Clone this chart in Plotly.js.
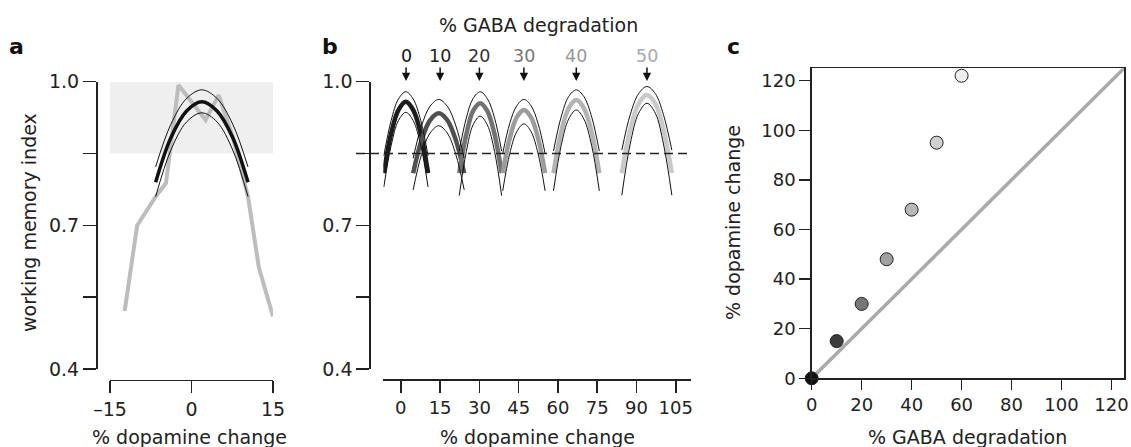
<!DOCTYPE html>
<html>
<head>
<meta charset="utf-8">
<script src="https://cdn.plot.ly/plotly-3.0.1.min.js"></script>
<style>html,body{margin:0;padding:0;background:#fff;}#chart{width:1131px;height:447px;}</style>
</head>
<body>
<div id="chart"></div>
<script>
// ---------- Panel a data ----------
const aSimX = [-12.3, -10, -6.6, -4.7, -2.4, 2.6, 5.0, 7.6, 10.4, 12.4, 15];
const aSimY = [0.521, 0.700, 0.760, 0.788, 0.993, 0.920, 0.972, 0.885, 0.760, 0.612, 0.510];
const aFitX = [-6.6, -3.8, -0.9, 1.9, 4.7, 7.6, 10.4];
const aFitMid = [0.790, 0.883, 0.939, 0.958, 0.939, 0.883, 0.790];
const aFitUp = [0.822, 0.911, 0.965, 0.983, 0.965, 0.911, 0.822];
const aFitLow = [0.760, 0.857, 0.916, 0.935, 0.916, 0.857, 0.760];
const aXTicks = [-15, 0, 15];
const aXTickText = ['\u201315', '0', '15'];
const wmTicks = [0.4, 0.55, 0.7, 0.85, 1.0];
const wmTickText = ['0.4', '', '0.7', '', '1.0'];

// ---------- Panel b data ----------
const gabaLevels = ['0', '10', '20', '30', '40', '50'];
const arrowDopamine = [2, 15, 30, 47, 67, 94];
const bG0x = [-6.5, -3.7, -0.9, 1.9, 4.7, 7.6, 10.4];
const bG0mid = [0.809, 0.892, 0.941, 0.958, 0.941, 0.892, 0.809];
const bG0up = [0.845, 0.919, 0.964, 0.979, 0.964, 0.919, 0.845];
const bG0low = [0.780, 0.867, 0.919, 0.936, 0.919, 0.867, 0.780];
const bG10x = [4.7, 7.9, 11.2, 14.5, 17.7, 21.0, 24.2];
const bG10mid = [0.809, 0.878, 0.920, 0.934, 0.920, 0.878, 0.809];
const bG10up = [0.840, 0.908, 0.949, 0.963, 0.949, 0.908, 0.840];
const bG10low = [0.774, 0.848, 0.893, 0.908, 0.893, 0.848, 0.774];
const bG20x = [22.3, 25.0, 27.6, 30.3, 33.0, 35.8, 38.5];
const bG20mid = [0.809, 0.890, 0.939, 0.955, 0.939, 0.890, 0.809];
const bG20up = [0.855, 0.924, 0.965, 0.979, 0.965, 0.924, 0.855];
const bG20low = [0.762, 0.854, 0.910, 0.928, 0.910, 0.854, 0.762];
const bG30x = [38.9, 41.6, 44.3, 47.0, 49.7, 52.4, 55.1];
const bG30mid = [0.809, 0.882, 0.926, 0.941, 0.926, 0.882, 0.809];
const bG30up = [0.850, 0.913, 0.950, 0.963, 0.950, 0.913, 0.850];
const bG30low = [0.772, 0.850, 0.896, 0.912, 0.896, 0.850, 0.772];
const bG40x = [58.3, 61.2, 64.1, 67.0, 69.9, 72.9, 75.8];
const bG40mid = [0.809, 0.894, 0.945, 0.962, 0.945, 0.894, 0.809];
const bG40up = [0.855, 0.926, 0.969, 0.983, 0.969, 0.926, 0.855];
const bG40low = [0.772, 0.866, 0.922, 0.941, 0.922, 0.866, 0.772];
const bG50x = [84.4, 87.6, 90.8, 94.0, 97.2, 100.3, 103.5];
const bG50mid = [0.809, 0.900, 0.954, 0.972, 0.954, 0.900, 0.809];
const bG50up = [0.857, 0.931, 0.975, 0.990, 0.975, 0.931, 0.857];
const bG50low = [0.763, 0.870, 0.934, 0.955, 0.934, 0.870, 0.763];
const bXTicks = [0, 15, 30, 45, 60, 75, 90, 105];
const criterionLevel = 0.85;

// ---------- Panel c data ----------
const cGaba = [0, 10, 20, 30, 40, 50, 60];
const cDopamine = [0, 15, 30, 48, 68, 95, 122];
const identityLine = [0, 125];
const cTicks = [0, 20, 40, 60, 80, 100, 120];

// ---------- styles ----------
const groupColors = ['#1c1c1c', '#505050', '#727272', '#9c9c9c', '#b3b3b3', '#c9c9c9'];
const labelColors = ['#111111', '#222222', '#333333', '#777777', '#999999', '#aaaaaa'];
const dotColors = ['#111111', '#3c3c3c', '#777777', '#a0a0a0', '#b8b8b8', '#d0d0d0', '#eeeeee'];

const W = 1131, H = 447;
const fx = p => p / W;
const fy = p => 1 - p / H;
const FONT = 'DejaVu Sans, Arial, sans-serif';
const INK = '#222222';

const traces = [];
// panel a
traces.push({x: aSimX, y: aSimY, xaxis: 'x', yaxis: 'y', mode: 'lines',
  line: {color: '#bdbdbd', width: 4}, hoverinfo: 'skip'});
traces.push({x: aFitX, y: aFitMid, xaxis: 'x', yaxis: 'y', mode: 'lines',
  line: {color: '#111', width: 3.5, shape: 'spline'}});
traces.push({x: aFitX, y: aFitUp, xaxis: 'x', yaxis: 'y', mode: 'lines',
  line: {color: '#111', width: 1, shape: 'spline'}});
traces.push({x: aFitX, y: aFitLow, xaxis: 'x', yaxis: 'y', mode: 'lines',
  line: {color: '#111', width: 1, shape: 'spline'}});

// panel b
const groups = [
  [bG0x, bG0mid, bG0up, bG0low],
  [bG10x, bG10mid, bG10up, bG10low],
  [bG20x, bG20mid, bG20up, bG20low],
  [bG30x, bG30mid, bG30up, bG30low],
  [bG40x, bG40mid, bG40up, bG40low],
  [bG50x, bG50mid, bG50up, bG50low]
];
groups.forEach((g, i) => {
  traces.push({x: g[0], y: g[1], xaxis: 'x2', yaxis: 'y2', mode: 'lines',
    line: {color: groupColors[i], width: 4.5, shape: 'spline'}});
});
groups.forEach((g, i) => {
  traces.push({x: g[0], y: g[2], xaxis: 'x2', yaxis: 'y2', mode: 'lines',
    line: {color: '#111', width: 1, shape: 'spline'}});
  traces.push({x: g[0], y: g[3], xaxis: 'x2', yaxis: 'y2', mode: 'lines',
    line: {color: '#111', width: 1, shape: 'spline'}});
});

// panel c
traces.push({x: identityLine, y: identityLine, xaxis: 'x3', yaxis: 'y3', mode: 'lines',
  line: {color: '#aaaaaa', width: 3.5}});
traces.push({x: cGaba, y: cDopamine, xaxis: 'x3', yaxis: 'y3', mode: 'markers', cliponaxis: false,
  marker: {size: 13, color: dotColors, line: {color: '#222', width: 1}}});

const axBase = {showgrid: false, zeroline: false, showline: true, linecolor: INK, linewidth: 1.5,
  ticks: 'outside', tickcolor: INK, tickwidth: 1.5, tickfont: {family: FONT, size: 19, color: INK},
  fixedrange: true};

const annotations = [];
function addText(text, x, y, size, opts) {
  annotations.push(Object.assign({text: text, xref: 'paper', yref: 'paper', x: fx(x), y: fy(y),
    xanchor: 'center', yanchor: 'middle', showarrow: false,
    font: {family: FONT, size: size, color: INK}}, opts || {}));
}
addText('<b>a</b>', 16, 46, 22, {font: {family: FONT, size: 22, color: '#111'}});
addText('<b>b</b>', 330, 46, 22, {font: {family: FONT, size: 22, color: '#111'}});
addText('<b>c</b>', 733, 46, 22, {font: {family: FONT, size: 22, color: '#111'}});
addText('% dopamine change', 190, 437, 19);
addText('% dopamine change', 537, 437, 19);
addText('% GABA degradation', 967, 437, 19);
addText('% GABA degradation', 538, 25, 19);
addText('working memory index', 29, 223, 19, {textangle: -90});
addText('% dopamine change', 733, 223, 19, {textangle: -90});

gabaLevels.forEach((lab, i) => {
  annotations.push({text: lab, xref: 'x2', yref: 'paper', x: arrowDopamine[i], y: fy(81),
    showarrow: true, axref: 'pixel', ayref: 'pixel', ax: 0, ay: -25,
    arrowhead: 2, arrowsize: 1.1, arrowwidth: 1.5, arrowcolor: '#111', standoff: 0,
    font: {family: FONT, size: 17.5, color: labelColors[i]}});
});

const layout = {
  width: W, height: H, autosize: false,
  margin: {l: 0, r: 0, t: 0, b: 0},
  paper_bgcolor: '#ffffff', plot_bgcolor: 'rgba(0,0,0,0)',
  showlegend: false,
  xaxis: Object.assign({}, axBase, {domain: [fx(110), fx(273)], range: [-15, 15],
    anchor: 'free', position: fy(379.5), tickvals: aXTicks, ticktext: aXTickText, ticklen: 12}),
  yaxis: Object.assign({}, axBase, {domain: [fy(369), fy(81.7)], range: [0.4, 1.0],
    anchor: 'free', position: fx(96), tickvals: wmTicks, ticktext: wmTickText, ticklen: 13}),
  xaxis2: Object.assign({}, axBase, {domain: [fx(383.3), fx(690.7)], range: [-6.7, 110.7],
    anchor: 'free', position: fy(379), tickvals: bXTicks, ticklen: 12,
    tickfont: {family: FONT, size: 18, color: INK}}),
  yaxis2: Object.assign({}, axBase, {domain: [fy(369), fy(81.7)], range: [0.4, 1.0],
    anchor: 'free', position: fx(369.3), tickvals: wmTicks, ticktext: wmTickText, ticklen: 13}),
  xaxis3: Object.assign({}, axBase, {domain: [fx(811.7), fx(1124)], range: [0, 125],
    anchor: 'y3', mirror: true, tickvals: cTicks, ticklen: 10,
    tickfont: {family: FONT, size: 18, color: INK}}),
  yaxis3: Object.assign({}, axBase, {domain: [fy(378.3), fy(68.3)], range: [0, 125],
    anchor: 'x3', mirror: true, tickvals: cTicks, ticklen: 11,
    tickfont: {family: FONT, size: 18, color: INK}}),
  shapes: [
    {type: 'rect', xref: 'x', yref: 'y', x0: aXTicks[0], x1: aXTicks[2], y0: criterionLevel, y1: 1.0,
      fillcolor: '#efefef', line: {width: 0}, layer: 'below'},
    {type: 'line', xref: 'paper', yref: 'y2', x0: fx(356), x1: fx(691), y0: criterionLevel, y1: criterionLevel,
      line: {color: INK, width: 1.5, dash: '9px,5px'}, layer: 'above'}
  ],
  annotations: annotations
};

Plotly.newPlot('chart', traces, layout, {displayModeBar: false, staticPlot: true});
</script>
</body>
</html>
